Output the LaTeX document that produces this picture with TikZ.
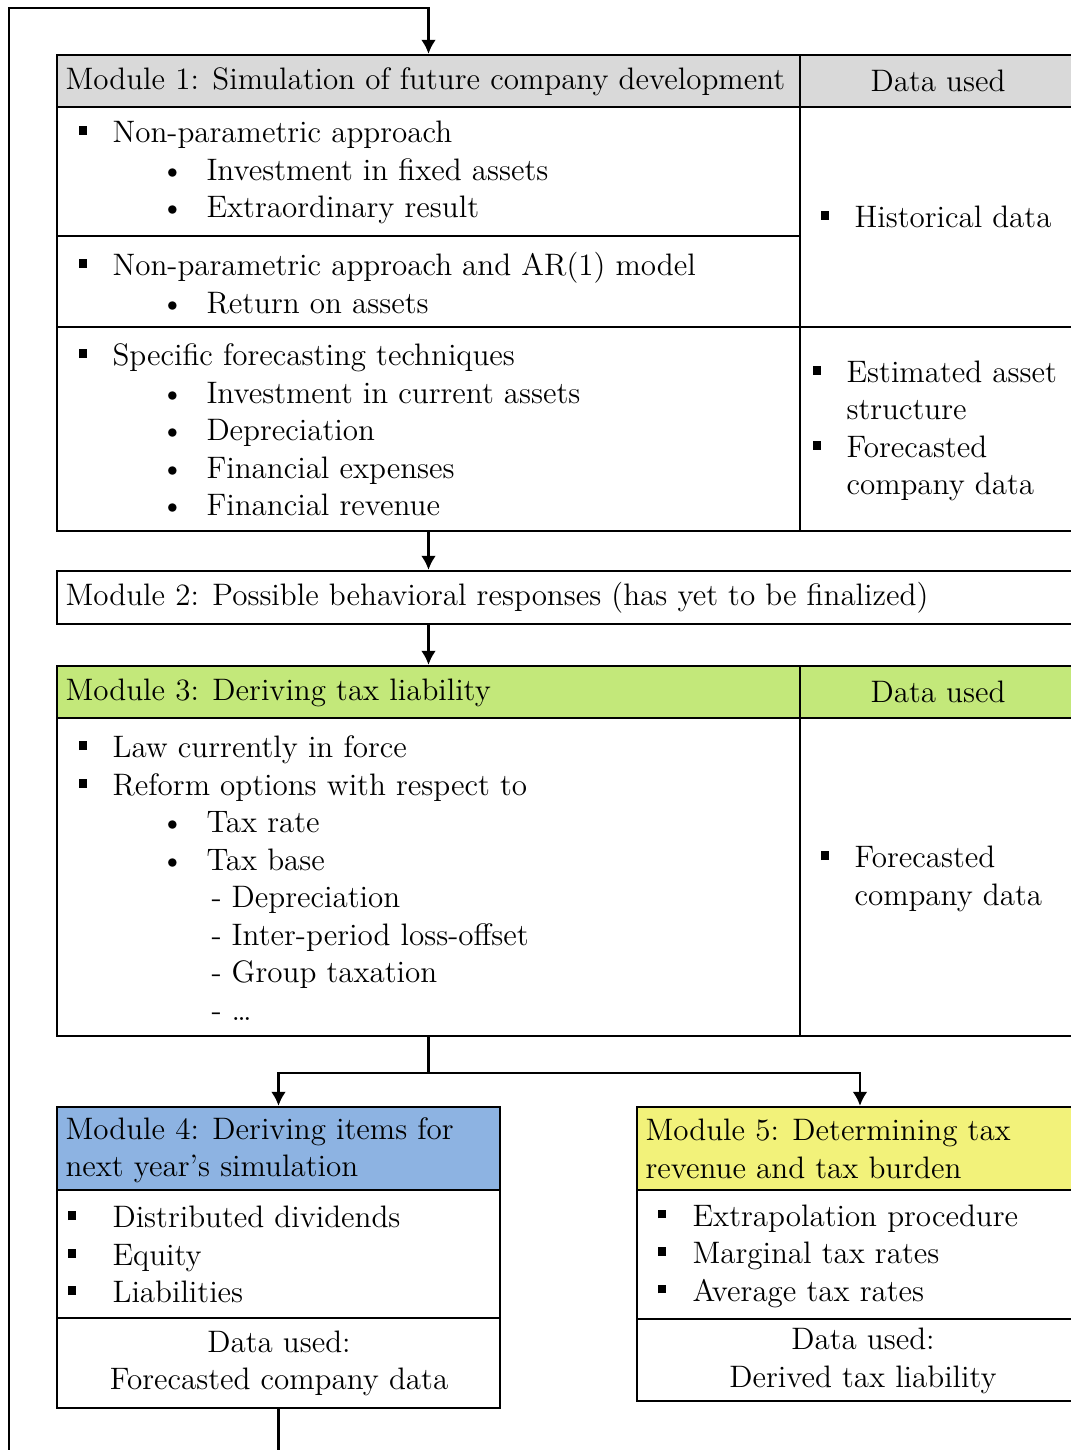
\documentclass[tikz,border=0pt]{standalone}
\usetikzlibrary{arrows.meta,fit}

\definecolor{headgray}{HTML}{D9D9D9}
\definecolor{headgreen}{HTML}{C3E87A}
\definecolor{headblue}{HTML}{8DB3E2}
\definecolor{headyellow}{HTML}{F2F27A}

\newlength{\pxu}\setlength{\pxu}{0.38pt}
\newcommand{\diagfont}{\fontsize{11.8}{14.25}\selectfont}
\newcommand{\sqitem}[2][34]{\makebox[#1\pxu][l]{\rule[2.9pt]{3.4pt}{3.4pt}}#2}
\newcommand{\dotitem}[1]{\hspace*{82\pxu}\makebox[46\pxu][l]{\textbullet}#1}
\newcommand{\dashitem}[1]{\hspace*{133\pxu}-~#1}

\begin{document}
\begin{tikzpicture}[x=0.38pt, y=-0.38pt,
    cell/.style={draw, line width=0.9pt, inner sep=0pt},
    txt/.style={inner sep=0pt, align=left, anchor=west, font=\diagfont},
    ctxt/.style={inner sep=0pt, align=center, anchor=center, font=\diagfont},
    flow/.style={-{Latex[length=5.3pt,width=5.6pt]}, line width=0.9pt}]

    \useasboundingbox (0,0) rectangle (1071,1450);
    \clip (0,0) rectangle (1071,1450);

    % 1. Modulo 1: simulazione
    \node[cell, fill=headgray, fit={(57,55) (800,107)}] (m1head) {};
    \node[cell, fill=headgray, fit={(800,55) (1076,107)}] (m1datahead) {};
    \node[cell, fit={(57,107) (800,236)}] (m1a) {};
    \node[cell, fit={(57,236) (800,327)}] (m1b) {};
    \node[cell, fit={(57,327) (800,531)}] (m1c) {};
    \node[cell, fit={(800,107) (1076,327)}] (m1hist) {};
    \node[cell, fit={(800,327) (1076,531)}] (m1est) {};

    \node[txt] (m1title) at (65,82) {Module 1: Simulation of future company development};
    \node[ctxt] (m1datatitle) at (938,81) {Data used};
    \node[txt] (m1atxt) at (78,172.5) {\sqitem{Non-parametric approach}\\
        \dotitem{Investment in fixed assets}\\ \dotitem{Extraordinary result}};
    \node[txt] (m1btxt) at (78,283) {\sqitem{Non-parametric approach and AR(1) model}\\
        \dotitem{Return on assets}};
    \node[txt] (m1ctxt) at (78,430) {\sqitem{Specific forecasting techniques}\\
        \dotitem{Investment in current assets}\\ \dotitem{Depreciation}\\
        \dotitem{Financial expenses}\\ \dotitem{Financial revenue}};
    \node[txt] (m1histtxt) at (820,217) {\sqitem{Historical data}};
    \node[txt] (m1esttxt) at (812,431) {\sqitem{Estimated asset}\\ \hspace*{34\pxu}structure\\
        \sqitem{Forecasted}\\ \hspace*{34\pxu}company data};

    % 2. Modulo 2: risposte comportamentali
    \node[cell, fit={(57,571) (1076,624)}] (m2) {};
    \node[txt] (m2title) at (65,598) {Module 2: Possible behavioral responses (has yet to be finalized)};

    % 3. Modulo 3: debito d'imposta
    \node[cell, fill=headgreen, fit={(57,666) (800,718)}] (m3head) {};
    \node[cell, fill=headgreen, fit={(800,666) (1076,718)}] (m3datahead) {};
    \node[cell, fit={(57,718) (800,1036)}] (m3body) {};
    \node[cell, fit={(800,718) (1076,1036)}] (m3data) {};

    \node[txt] (m3title) at (65,693) {Module 3: Deriving tax liability};
    \node[ctxt] (m3datatitle) at (938,692) {Data used};
    \node[txt] (m3bodytxt) at (78,878) {\sqitem{Law currently in force}\\
        \sqitem{Reform options with respect to}\\ \dotitem{Tax rate}\\ \dotitem{Tax base}\\
        \dashitem{Depreciation}\\ \dashitem{Inter-period loss-offset}\\
        \dashitem{Group taxation}\\ \dashitem{\ldots}};
    \node[txt] (m3datatxt) at (820,879) {\sqitem{Forecasted}\\ \hspace*{34\pxu}company data};

    % 4. Modulo 4 e modulo 5
    \node[cell, fill=headblue, fit={(57,1107) (500,1190)}] (m4head) {};
    \node[cell, fit={(57,1190) (500,1318)}] (m4body) {};
    \node[cell, fit={(57,1318) (500,1408)}] (m4data) {};
    \node[txt] (m4title) at (65,1150) {Module 4: Deriving items for\\ next year's simulation};
    \node[txt] (m4bodytxt) at (67,1254.5) {\sqitem[45]{Distributed dividends}\\
        \sqitem[45]{Equity}\\ \sqitem[45]{Liabilities}};
    \node[ctxt] (m4datatxt) at (279,1363.5) {Data used:\\ Forecasted company data};

    \node[cell, fill=headyellow, fit={(637,1107) (1083,1190)}] (m5head) {};
    \node[cell, fit={(637,1190) (1083,1319)}] (m5body) {};
    \node[cell, fit={(637,1319) (1083,1401)}] (m5data) {};
    \node[txt] (m5title) at (645,1149) {Module 5: Determining tax\\ revenue and tax burden};
    \node[txt] (m5bodytxt) at (657,1256) {\sqitem[35]{Extrapolation procedure}\\
        \sqitem[35]{Marginal tax rates}\\ \sqitem[35]{Average tax rates}};
    \node[ctxt] (m5datatxt) at (863,1361) {Data used:\\ Derived tax liability};

    % 5. Frecce tra i moduli
    \draw[flow] (m1c.south) -- (m1c.south |- m2.north);
    \draw[flow] (m1c.south |- m2.south) -- (m3head.north);
    \draw[line width=0.9pt] (m3body.south) -- ++(0,36) coordinate (split);
    \draw[flow] (split) -| (m4head.north);
    \draw[flow] (split) -| (m5head.north);

    % 6. Ritorno al modulo 1 (anno successivo)
    \coordinate (loopbottom) at (9,1480);
    \coordinate (looptop) at (9,8);
    \draw[flow] (m4data.south) |- (loopbottom) -- (looptop) -| (m1head.north);

\end{tikzpicture}
\end{document}
